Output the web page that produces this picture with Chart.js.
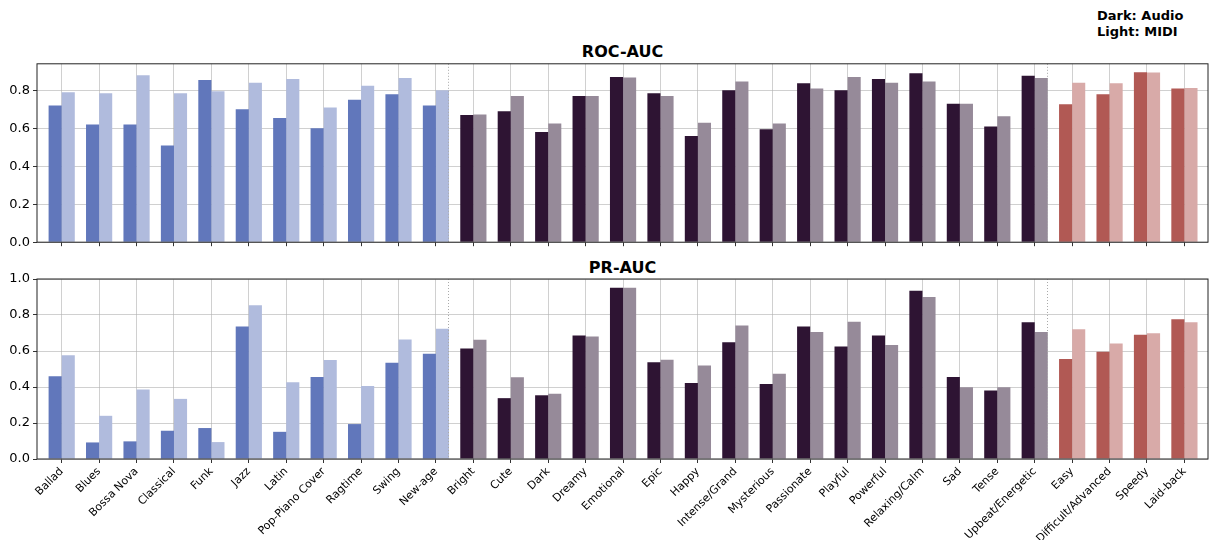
<!DOCTYPE html>
<html>
<head>
<meta charset="utf-8">
<script src="https://cdn.jsdelivr.net/npm/chart.js@4.4.1/dist/chart.umd.min.js"></script>
<style>
  body { margin: 0; background: #fff; font-family: "DejaVu Sans", sans-serif; }
  #wrap { position: relative; width: 1210px; height: 540px; overflow: hidden; }
  canvas { position: absolute; left: 0; }
  .title { position: absolute; left: 422.5px; width: 400px; text-align: center;
           font-weight: bold; font-size: 16px; line-height: 19px; color: #000; }
  #note { position: absolute; left: 1097px; top: 8px; font-weight: bold;
          font-size: 13px; line-height: 15.5px; color: #000; }
</style>
</head>
<body>
<div id="wrap">
  <div id="note">Dark: Audio<br>Light: MIDI</div>
  <div class="title" style="top:42px">ROC-AUC</div>
  <canvas id="roc" width="1210" height="200" style="top:53px"></canvas>
  <div class="title" style="top:258px">PR-AUC</div>
  <canvas id="pr" width="1210" height="274" style="top:266px"></canvas>
</div>
<script>
const genres = ["Ballad", "Blues", "Bossa Nova", "Classical", "Funk", "Jazz", "Latin",
  "Pop-Piano Cover", "Ragtime", "Swing", "New-age"];
const moods = ["Bright", "Cute", "Dark", "Dreamy", "Emotional", "Epic", "Happy",
  "Intense/Grand", "Mysterious", "Passionate", "Playful", "Powerful", "Relaxing/Calm",
  "Sad", "Tense", "Upbeat/Energetic"];
const skills = ["Easy", "Difficult/Advanced", "Speedy", "Laid-back"];
const categories = [...genres, ...moods, ...skills];

// dark bars = Audio, light bars = MIDI
const rocAudio = [0.72, 0.62, 0.62, 0.51, 0.855, 0.70, 0.655, 0.60, 0.75, 0.78, 0.72,
  0.67, 0.69, 0.58, 0.77, 0.87, 0.785, 0.56, 0.80, 0.595, 0.838, 0.80, 0.86, 0.89, 0.73, 0.61, 0.877,
  0.727, 0.78, 0.895, 0.81];
const rocMidi = [0.79, 0.785, 0.88, 0.785, 0.795, 0.84, 0.86, 0.71, 0.825, 0.865, 0.80,
  0.673, 0.77, 0.625, 0.77, 0.868, 0.77, 0.63, 0.847, 0.625, 0.81, 0.87, 0.84, 0.847, 0.73, 0.663, 0.865,
  0.84, 0.837, 0.894, 0.812];
const prAudio = [0.46, 0.092, 0.098, 0.157, 0.172, 0.736, 0.151, 0.456, 0.194, 0.535, 0.585,
  0.614, 0.338, 0.354, 0.686, 0.952, 0.537, 0.422, 0.648, 0.417, 0.736, 0.625, 0.686, 0.935, 0.456, 0.38, 0.76,
  0.555, 0.596, 0.69, 0.777];
const prMidi = [0.576, 0.24, 0.386, 0.334, 0.094, 0.854, 0.426, 0.55, 0.406, 0.664, 0.723,
  0.662, 0.454, 0.363, 0.681, 0.952, 0.552, 0.52, 0.742, 0.474, 0.705, 0.762, 0.633, 0.90, 0.399, 0.399, 0.705,
  0.721, 0.642, 0.699, 0.76];

const FONT = "'DejaVu Sans', sans-serif";
const GRID = "rgba(176,176,176,0.75)";

// [dark, light] per group
const palette = {
  genre: ["#6177bb", "#b0bbdd"],
  mood: ["#2e1433", "#968a99"],
  skill: ["#b15954", "#d8aaa8"]
};

function colorAt(i, shade) {
  if (i < genres.length) return palette.genre[shade];
  if (i < genres.length + moods.length) return palette.mood[shade];
  return palette.skill[shade];
}

// box around the axes and dotted separators between the groups
const framePlugin = {
  id: "frame",
  afterDatasetsDraw(chart) {
    const { ctx, chartArea: a, scales } = chart;
    ctx.save();
    ctx.strokeStyle = "#aaa";
    ctx.lineWidth = 1;
    ctx.setLineDash([1, 2]);
    [genres.length - 1 + 0.33, genres.length + moods.length - 1 + 0.33].forEach(v => {
      const x = Math.round(scales.x.getPixelForValue(v)) + 0.5;
      ctx.beginPath();
      ctx.moveTo(x, a.top);
      ctx.lineTo(x, a.bottom);
      ctx.stroke();
    });
    ctx.restore();
  },
  afterDraw(chart) {
    const { ctx, chartArea: a } = chart;
    ctx.save();
    ctx.strokeStyle = "#222";
    ctx.lineWidth = 1;
    ctx.strokeRect(a.left, a.top, a.right - a.left, a.bottom - a.top);
    ctx.restore();
  }
};

function xScale(showLabels) {
  return {
    type: "linear",
    min: -0.66,
    max: categories.length - 1 + 0.63,
    offset: false,
    z: 1,
    afterBuildTicks: s => { s.ticks = categories.map((c, i) => ({ value: i })); },
    afterFit: s => { s.height = showLabels ? 81 : 7; },
    border: { display: false },
    grid: { offset: false, color: GRID, lineWidth: 0.8, drawTicks: true, tickLength: 4,
            tickColor: "#333", tickWidth: 1 },
    ticks: {
      display: showLabels, autoSkip: false, minRotation: 45, maxRotation: 45, padding: 2,
      color: "#000", font: { family: FONT, size: 11 },
      callback: v => categories[v]
    }
  };
}

function yScale(max) {
  return {
    min: 0,
    max: max,
    z: 1,
    afterBuildTicks: s => {
      s.ticks = s.ticks.filter(t => Math.abs(t.value * 5 - Math.round(t.value * 5)) < 1e-6);
    },
    afterFit: s => { s.width = 37; },
    border: { display: false },
    grid: { color: GRID, lineWidth: 0.8, tickLength: 4, tickColor: "#333", tickWidth: 1 },
    ticks: {
      stepSize: 0.2, padding: 3, color: "#000", font: { family: FONT, size: 13 },
      callback: v => v.toFixed(1)
    }
  };
}

function makeChart(id, audio, midi, yMax, showLabels, padTop) {
  const ctx = document.getElementById(id).getContext("2d");
  return new Chart(ctx, {
    type: "bar",
    data: {
      datasets: [
        {
          label: "Audio",
          data: audio.map((v, i) => ({ x: i, y: v })),
          backgroundColor: categories.map((c, i) => colorAt(i, 0)),
          borderWidth: 0
        },
        {
          label: "MIDI",
          data: midi.map((v, i) => ({ x: i, y: v })),
          backgroundColor: categories.map((c, i) => colorAt(i, 1)),
          borderWidth: 0
        }
      ]
    },
    options: {
      responsive: false,
      animation: false,
      categoryPercentage: 0.7,
      barPercentage: 1.0,
      layout: { padding: { top: padTop, right: 2, left: 0, bottom: 0 } },
      plugins: { legend: { display: false }, tooltip: { enabled: false }, title: { display: false } },
      scales: { x: xScale(showLabels), y: yScale(yMax) }
    },
    plugins: [framePlugin]
  });
}

makeChart("roc", rocAudio, rocMidi, 0.94, false, 0);
makeChart("pr", prAudio, prMidi, 1.0, true, 13);
</script>
</body>
</html>
